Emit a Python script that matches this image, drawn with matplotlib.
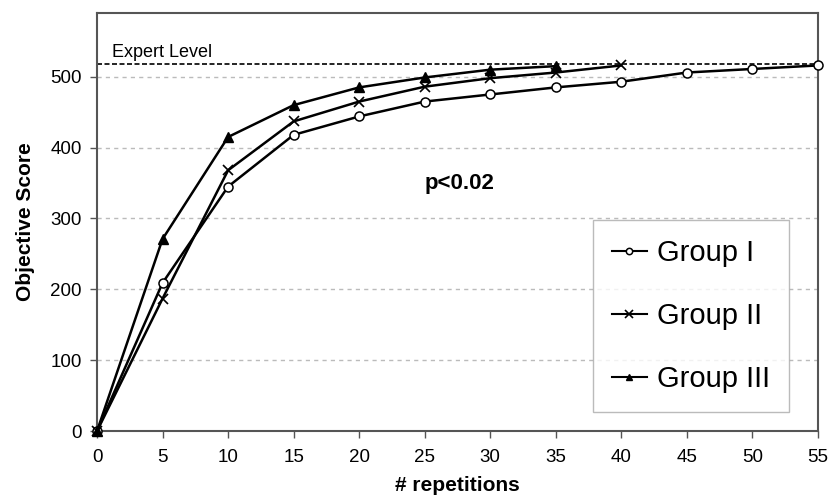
import matplotlib
matplotlib.use("Agg")
import matplotlib.pyplot as plt

plt.rcParams['font.family'] = ['Liberation Sans', 'DejaVu Sans']

reps_g1 = [0, 5, 10, 15, 20, 25, 30, 35, 40, 45, 50, 55]
score_g1 = [0, 209, 345, 418, 444, 465, 475, 485, 493, 506, 511, 516]
reps_g2 = [0, 5, 10, 15, 20, 25, 30, 35, 40]
score_g2 = [0, 187, 368, 437, 465, 486, 498, 506, 516]
reps_g3 = [0, 5, 10, 15, 20, 25, 30, 35]
score_g3 = [0, 271, 415, 460, 485, 499, 510, 515]
expert_level = 518
x_ticks = [0, 5, 10, 15, 20, 25, 30, 35, 40, 45, 50, 55]
y_ticks = [0, 100, 200, 300, 400, 500]

fig = plt.figure(figsize=(8.3, 4.98), dpi=100)
ax = fig.add_axes([0.1169, 0.1345, 0.8686, 0.8394])

for yv in y_ticks[1:]:
    ax.axhline(yv, color='#bbbbbb', lw=1, ls=(0, (3, 3)), zorder=0)
ax.axhline(expert_level, color='black', lw=1.2, ls=(0, (3, 1.5)), zorder=1)
ax.text(1.15, expert_level + 4, 'Expert Level', fontsize=13, va='bottom', ha='left')

ax.plot(reps_g1, score_g1, color='black', lw=1.8, marker='o', ms=6.5,
        mfc='white', mec='black', mew=1.1, label='Group I', zorder=3, clip_on=False)
ax.plot(reps_g2, score_g2, color='black', lw=1.8, marker='x', ms=7.5,
        mew=1.2, label='Group II', zorder=4, clip_on=False)
ax.plot(reps_g3, score_g3, color='black', lw=1.8, marker='^', ms=7,
        mfc='black', mec='black', label='Group III', zorder=5, clip_on=False)

ax.text(25.0, 350, 'p<0.02', fontsize=16, fontweight='bold', va='center', ha='left')

ax.set_xlim(0, 55)
ax.set_ylim(0, 590)
ax.set_xticks(x_ticks)
ax.set_yticks(y_ticks)
ax.tick_params(axis='both', labelsize=13.5, length=5, width=1, color='#555555')
ax.tick_params(axis='x', pad=8)
ax.tick_params(axis='y', pad=6)
for s in ax.spines.values():
    s.set_color('#555555')
    s.set_linewidth(1.5)

ax.set_xlabel('# repetitions', fontsize=15, fontweight='bold', labelpad=7)
ax.set_ylabel('Objective Score', fontsize=15, fontweight='bold', labelpad=11)

leg = ax.legend(loc='lower right', bbox_to_anchor=(0.96, 0.045), fontsize=21,
                handlelength=1.2, handletextpad=0.35, labelspacing=1.2,
                borderpad=0.65, borderaxespad=0, frameon=True, fancybox=False,
                markerscale=0.7)
leg.get_frame().set_edgecolor('#aaaaaa')
leg.get_frame().set_linewidth(1)
for h in leg.get_lines():
    h.set_linewidth(1.5)

fig.savefig('out.png', dpi=100)
